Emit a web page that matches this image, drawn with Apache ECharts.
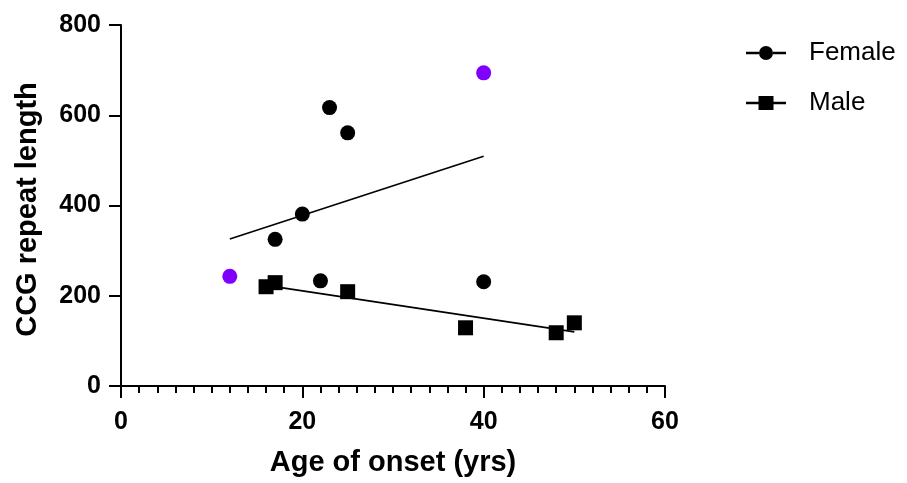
<!DOCTYPE html>
<html>
<head>
<meta charset="utf-8">
<script src="https://cdn.jsdelivr.net/npm/echarts@6/dist/echarts.min.js"></script>
<style>html,body{margin:0;padding:0;background:#fff}#c{width:907px;height:483px}</style>
</head>
<body>
<div id="c"></div>
<script>
// Data
const femaleAge = [12, 17, 20, 22, 23, 25, 40, 40];
const femaleCCG = [243, 325, 381, 233, 617, 561, 231, 694];
const femaleHighlighted = [true, false, false, false, false, false, false, true];
const maleAge = [16, 17, 25, 38, 48, 50];
const maleCCG = [220, 229, 209, 129, 118, 140];
const femaleFitAge = [12, 40];
const femaleFitCCG = [326, 509];
const maleFitAge = [16, 50];
const maleFitCCG = [223, 120];
const xTicks = [0, 20, 40, 60];
const yTicks = [0, 200, 400, 600, 800];

const FONT = '"Liberation Sans", Arial, sans-serif';
const zip = (a, b) => a.map((v, i) => [v, b[i]]);

const chart = echarts.init(document.getElementById('c'), null, {renderer: 'canvas'});
const circleIcon = 'path://M0,5.7h13v2.6h-13z M27,5.7h13v2.6h-13z M13,7a7,7 0 1,0 14,0a7,7 0 1,0 -14,0z';
const squareIcon = 'path://M0,5.7h13v2.6h-13z M27,5.7h13v2.6h-13z M12.5,0h15v14h-15z';

chart.setOption({
  animation: false,
  backgroundColor: '#fff',
  grid: {left: 121, right: 242, top: 25, bottom: 97, containLabel: false},
  legend: {
    left: 741, top: 35, orient: 'vertical', itemWidth: 40, itemHeight: 14, itemGap: 24,
    itemStyle: {opacity: 1},
    textStyle: {fontFamily: FONT, fontSize: 26, color: '#000', padding: [0, 0, 0, 18]},
    data: [{name: 'Female', icon: circleIcon}, {name: 'Male', icon: squareIcon}]
  },
  xAxis: {
    type: 'value', min: xTicks[0], max: xTicks[xTicks.length - 1], interval: 20,
    name: 'Age of onset (yrs)', nameLocation: 'middle', nameGap: 62,
    nameTextStyle: {fontFamily: FONT, fontSize: 29, fontWeight: 'bold', color: '#000'},
    axisLine: {show: true, onZero: false, lineStyle: {color: '#000', width: 2}},
    axisTick: {show: true, length: 12, lineStyle: {color: '#000', width: 2}},
    minorTick: {show: true, splitNumber: 10, length: 7, lineStyle: {color: '#000', width: 2}},
    axisLabel: {fontFamily: FONT, fontSize: 25, fontWeight: 'bold', color: '#000', margin: 24},
    splitLine: {show: false}
  },
  yAxis: {
    type: 'value', min: yTicks[0], max: yTicks[yTicks.length - 1], interval: 200,
    name: 'CCG repeat length', nameLocation: 'middle', nameGap: 79, nameRotate: 90,
    nameTextStyle: {fontFamily: FONT, fontSize: 29, fontWeight: 'bold', color: '#000', padding: [0, 8, 0, 0]},
    axisLine: {show: true, onZero: false, lineStyle: {color: '#000', width: 2}},
    axisTick: {show: true, length: 12, lineStyle: {color: '#000', width: 2}},
    axisLabel: {fontFamily: FONT, fontSize: 25, fontWeight: 'bold', color: '#000', margin: 20},
    splitLine: {show: false}
  },
  series: [
    {
      name: 'Female fit', type: 'line', data: zip(femaleFitAge, femaleFitCCG),
      symbol: 'none', lineStyle: {color: '#000', width: 1.6}, z: 1, silent: true
    },
    {
      name: 'Male fit', type: 'line', data: zip(maleFitAge, maleFitCCG),
      symbol: 'none', lineStyle: {color: '#000', width: 1.6}, z: 1, silent: true
    },
    {
      name: 'Female', type: 'scatter', symbol: 'circle', symbolSize: 15,
      itemStyle: {color: '#000', opacity: 1}, z: 3,
      data: femaleAge.map((x, i) => ({
        value: [x, femaleCCG[i]],
        itemStyle: {color: femaleHighlighted[i] ? '#7f00ff' : '#000', opacity: 1}
      }))
    },
    {
      name: 'Male', type: 'scatter', symbol: 'rect', symbolSize: 15,
      itemStyle: {color: '#000', opacity: 1}, z: 2,
      data: zip(maleAge, maleCCG)
    }
  ]
});
</script>
</body>
</html>
